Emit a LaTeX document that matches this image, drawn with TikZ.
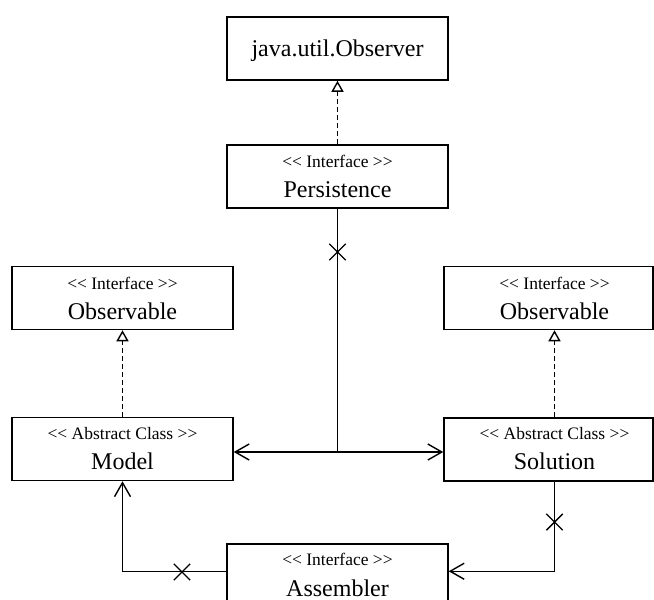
\documentclass[tikz,border=0pt]{standalone}
\usepackage{fontspec}
\newfontfamily\umlfont{Liberation Serif}
\usetikzlibrary{arrows.meta,shapes.misc,calc}
\begin{document}
\begin{tikzpicture}[x=1pt,y=-1pt,
  umlbox/.style={draw, line width=1.5pt, rectangle, inner sep=0pt, minimum height=63pt},
  stereo/.style={font=\umlfont\fontsize{17.5}{20}\selectfont, anchor=base, inner sep=0pt},
  cname/.style={font=\umlfont\fontsize{24}{28}\selectfont, anchor=base, inner sep=0pt},
  conn/.style={line width=1.4pt},
  realize/.style={conn, dash pattern=on 5pt off 3pt, -{Triangle[open,length=11pt,width=12pt,line width=1.4pt]}},
  assoc/.style={conn, -{Straight Barb[length=14pt,width=16pt,line width=1.4pt]}},
  xmark/.style={cross out, draw, line width=1.4pt, minimum size=15pt, inner sep=0pt},
]
\useasboundingbox (0,0) rectangle (654,600);

% class boxes
\node[umlbox, minimum width=221pt] (obs)   at (337.5,48.5)  {};
\node[umlbox, minimum width=221pt] (pers)  at (337.5,176.5) {};
\node[umlbox, minimum width=221pt] (obsL)  at (122.5,298)   {};
\node[umlbox, minimum width=221pt] (model) at (122.5,449)   {};
\node[umlbox, minimum width=209pt] (obsR)  at (548.5,298)   {};
\node[umlbox, minimum width=209pt] (sol)   at (548.5,449.5) {};
\node[umlbox, minimum width=221pt] (asm)   at (337.5,575.5) {};

% labels
\node[cname]  (obsT)   at (337.5,56)  {java.util.Observer};
\node[stereo] (persS)  at (337.5,167) {<\kern0pt< Interface >\kern0pt>};
\node[cname]  (persT)  at (337.5,197) {Persistence};
\node[stereo] (obsLS)  at (122.5,289) {<\kern0pt< Interface >\kern0pt>};
\node[cname]  (obsLT)  at (122.5,319) {Observable};
\node[stereo] (modelS) at (122.5,439) {<\kern0pt< Abstract Class >\kern0pt>};
\node[cname]  (modelT) at (122.5,469) {Model};
\node[stereo] (obsRS)  at (554.5,289) {<\kern0pt< Interface >\kern0pt>};
\node[cname]  (obsRT)  at (554.5,319) {Observable};
\node[stereo] (solS)   at (554.5,439) {<\kern0pt< Abstract Class >\kern0pt>};
\node[cname]  (solT)   at (554.5,469) {Solution};
\node[stereo] (asmS)   at (337.5,565) {<\kern0pt< Interface >\kern0pt>};
\node[cname]  (asmT)   at (337.5,596) {Assembler};

% realizations
\draw[realize] (pers.north) -- (obs.south);
\draw[realize] (model.north) -- (obsL.south);
\draw[realize] (solT |- sol.north) -- (solT |- obsR.south);

% Persistence associations
\coordinate (jn) at (337.5,452);
\draw[conn] (pers.south) -- (jn);
\draw[assoc] (jn) -- (jn -| model.east);
\draw[assoc] (jn) -- (jn -| sol.west);
\node[xmark] (x1) at (337.5,252) {};

% Assembler associations
\coordinate (aL) at ($(asm.north west)+(0,28)$);
\coordinate (aR) at ($(asm.north east)+(0,28)$);
\draw[assoc] (aL) -- (aL -| model.south) -- (model.south);
\node[xmark] (x2) at (182,572) {};
\draw[assoc] (solT |- sol.south) -- (solT |- aR) -- (aR);
\node[xmark] (x3) at (554.5,522) {};
\end{tikzpicture}
\end{document}
